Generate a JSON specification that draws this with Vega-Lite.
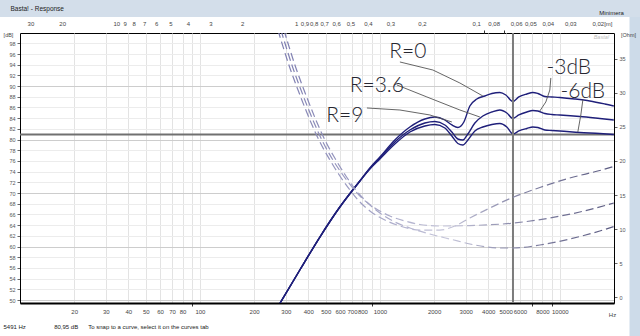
{
 "$schema": "https://vega.github.io/schema/vega-lite/v6.json",
 "width": 594, "height": 270,
 "autosize": "none",
 "padding": {"left": 20, "top": 33, "right": 26, "bottom": 33},
 "background": "#ffffff",
 "config": {"view": {"stroke": "#000000", "strokeWidth": 1}, "font": "Liberation Sans", "axis": {"labelFont": "Liberation Sans", "titleFont": "Liberation Sans", "labelOverlap": false, "labelBound": false}},
 "datasets": {
  "spl": [
   {"curve":"R=0","f":274.8,"db":49.07},{"curve":"R=0","f":359,"db":55.61},{"curve":"R=0","f":464,"db":61.78},{"curve":"R=0","f":599,"db":67.39},{"curve":"R=0","f":774,"db":72.26},{"curve":"R=0","f":880,"db":74.69},{"curve":"R=0","f":1000,"db":76.74},{"curve":"R=0","f":1211,"db":79.92},{"curve":"R=0","f":1468,"db":82.35},{"curve":"R=0","f":1778,"db":83.85},{"curve":"R=0","f":2021,"db":84.22},{"curve":"R=0","f":2297,"db":83.66},{"curve":"R=0","f":2512,"db":82.73},{"curve":"R=0","f":2712,"db":82.26},{"curve":"R=0","f":2929,"db":83.29},{"curve":"R=0","f":3162,"db":86.28},{"curve":"R=0","f":3458,"db":87.59},{"curve":"R=0","f":3831,"db":88.15},{"curve":"R=0","f":4191,"db":88.62},{"curve":"R=0","f":4642,"db":88.81},{"curve":"R=0","f":5012,"db":88.34},{"curve":"R=0","f":5483,"db":87.12},{"curve":"R=0","f":5918,"db":87.97},{"curve":"R=0","f":6556,"db":88.53},{"curve":"R=0","f":7079,"db":88.81},{"curve":"R=0","f":7550,"db":88.62},{"curve":"R=0","f":8254,"db":88.06},{"curve":"R=0","f":9029,"db":87.97},{"curve":"R=0","f":10000,"db":87.87},{"curve":"R=0","f":12115,"db":87.59},{"curve":"R=0","f":14678,"db":87.22},{"curve":"R=0","f":17783,"db":86.66},{"curve":"R=0","f":19953,"db":86.28},
   {"curve":"R=3.6","f":274.8,"db":49.07},{"curve":"R=3.6","f":359,"db":55.61},{"curve":"R=3.6","f":464,"db":61.78},{"curve":"R=3.6","f":599,"db":67.39},{"curve":"R=3.6","f":774,"db":72.26},{"curve":"R=3.6","f":880,"db":74.6},{"curve":"R=3.6","f":1000,"db":76.56},{"curve":"R=3.6","f":1211,"db":79.55},{"curve":"R=3.6","f":1468,"db":81.79},{"curve":"R=3.6","f":1778,"db":83.1},{"curve":"R=3.6","f":2021,"db":83.38},{"curve":"R=3.6","f":2297,"db":82.73},{"curve":"R=3.6","f":2512,"db":81.42},{"curve":"R=3.6","f":2712,"db":80.11},{"curve":"R=3.6","f":2891,"db":79.92},{"curve":"R=3.6","f":3083,"db":81.05},{"curve":"R=3.6","f":3372,"db":83.1},{"curve":"R=3.6","f":3734,"db":84.41},{"curve":"R=3.6","f":4191,"db":85.16},{"curve":"R=3.6","f":4642,"db":85.53},{"curve":"R=3.6","f":5076,"db":84.97},{"curve":"R=3.6","f":5483,"db":83.94},{"curve":"R=3.6","f":5918,"db":84.6},{"curve":"R=3.6","f":6556,"db":85.16},{"curve":"R=3.6","f":7079,"db":85.44},{"curve":"R=3.6","f":7550,"db":85.35},{"curve":"R=3.6","f":8254,"db":84.88},{"curve":"R=3.6","f":9029,"db":84.69},{"curve":"R=3.6","f":10000,"db":84.6},{"curve":"R=3.6","f":12915,"db":84.32},{"curve":"R=3.6","f":16681,"db":83.94},{"curve":"R=3.6","f":19953,"db":83.66},
   {"curve":"R=9","f":274.8,"db":49.07},{"curve":"R=9","f":359,"db":55.61},{"curve":"R=9","f":464,"db":61.78},{"curve":"R=9","f":599,"db":67.39},{"curve":"R=9","f":774,"db":72.26},{"curve":"R=9","f":880,"db":74.5},{"curve":"R=9","f":1000,"db":76.37},{"curve":"R=9","f":1211,"db":79.18},{"curve":"R=9","f":1468,"db":81.42},{"curve":"R=9","f":1778,"db":82.54},{"curve":"R=9","f":2021,"db":82.82},{"curve":"R=9","f":2297,"db":82.17},{"curve":"R=9","f":2512,"db":80.67},{"curve":"R=9","f":2712,"db":79.27},{"curve":"R=9","f":2891,"db":78.99},{"curve":"R=9","f":3083,"db":79.92},{"curve":"R=9","f":3372,"db":81.61},{"curve":"R=9","f":3734,"db":82.35},{"curve":"R=9","f":4191,"db":82.82},{"curve":"R=9","f":4642,"db":83.01},{"curve":"R=9","f":5076,"db":82.35},{"curve":"R=9","f":5483,"db":81.05},{"curve":"R=9","f":5918,"db":81.61},{"curve":"R=9","f":6556,"db":82.07},{"curve":"R=9","f":7079,"db":82.35},{"curve":"R=9","f":7550,"db":82.26},{"curve":"R=9","f":8254,"db":81.79},{"curve":"R=9","f":9029,"db":81.7},{"curve":"R=9","f":10000,"db":81.61},{"curve":"R=9","f":12915,"db":81.33},{"curve":"R=9","f":16681,"db":81.14},{"curve":"R=9","f":19953,"db":80.95}
  ],
  "imp": [
   {"curve":"A","f":271.3,"ohm":39.26},{"curve":"A","f":316.2,"ohm":33.68},{"curve":"A","f":359.4,"ohm":29.71},{"curve":"A","f":408.4,"ohm":26.03},{"curve":"A","f":464.2,"ohm":22.79},{"curve":"A","f":527.6,"ohm":20.15},{"curve":"A","f":599.5,"ohm":17.79},{"curve":"A","f":681.3,"ohm":15.74},{"curve":"A","f":774.3,"ohm":13.97},{"curve":"A","f":880,"ohm":12.65},{"curve":"A","f":1066,"ohm":11.32},{"curve":"A","f":1292,"ohm":10.44},{"curve":"A","f":1668,"ohm":9.85},{"curve":"A","f":2154,"ohm":9.85},{"curve":"A","f":2610,"ohm":10.44},{"curve":"A","f":3162,"ohm":11.62},{"curve":"A","f":4084,"ohm":13.09},{"curve":"A","f":5551,"ohm":14.71},{"curve":"A","f":7743,"ohm":16.1},{"curve":"A","f":11365,"ohm":17.5},{"curve":"A","f":16681,"ohm":18.6},{"curve":"A","f":19953,"ohm":19.19},
   {"curve":"B","f":281.8,"ohm":39.26},{"curve":"B","f":328.6,"ohm":33.68},{"curve":"B","f":373.4,"ohm":29.71},{"curve":"B","f":424.4,"ohm":26.03},{"curve":"B","f":482.4,"ohm":22.79},{"curve":"B","f":548.3,"ohm":20.15},{"curve":"B","f":623,"ohm":17.94},{"curve":"B","f":707.9,"ohm":16.03},{"curve":"B","f":804.6,"ohm":14.41},{"curve":"B","f":937.9,"ohm":13.09},{"curve":"B","f":1136,"ohm":11.91},{"curve":"B","f":1377,"ohm":11.18},{"curve":"B","f":1668,"ohm":10.66},{"curve":"B","f":2154,"ohm":10.44},{"curve":"B","f":3162,"ohm":10.51},{"curve":"B","f":5551,"ohm":10.88},{"curve":"B","f":8799,"ohm":11.62},{"curve":"B","f":12915,"ohm":12.5},{"curve":"B","f":19953,"ohm":13.82},
   {"curve":"C","f":292.9,"ohm":39.26},{"curve":"C","f":341.5,"ohm":33.68},{"curve":"C","f":388,"ohm":29.71},{"curve":"C","f":441,"ohm":26.03},{"curve":"C","f":501.2,"ohm":22.79},{"curve":"C","f":569.8,"ohm":20.15},{"curve":"C","f":647.4,"ohm":17.79},{"curve":"C","f":735.6,"ohm":15.74},{"curve":"C","f":857.7,"ohm":13.82},{"curve":"C","f":1000,"ohm":12.35},{"curve":"C","f":1211,"ohm":11.03},{"curve":"C","f":1468,"ohm":10.15},{"curve":"C","f":1896,"ohm":9.26},{"curve":"C","f":2448,"ohm":8.53},{"curve":"C","f":3372,"ohm":7.65},{"curve":"C","f":4642,"ohm":7.21},{"curve":"C","f":5551,"ohm":7.21},{"curve":"C","f":7743,"ohm":7.65},{"curve":"C","f":11365,"ohm":8.53},{"curve":"C","f":16681,"ohm":9.71},{"curve":"C","f":19953,"ohm":10.37}
  ],
  "notes": [
   {"label":"R=0","f":1431,"db":96.38},{"label":"R=3.6","f":962,"db":90.02},{"label":"R=9","f":639,"db":84.41},{"label":"-3dB","f":11220,"db":93.39},{"label":"-6dB","f":13422,"db":88.9}
  ],
  "leaders": [
   {"id":"R=0","i":0,"f":1292,"db":94.51},{"id":"R=0","i":1,"f":1970,"db":93.01},{"id":"R=0","i":2,"f":2783,"db":90.58},{"id":"R=0","i":3,"f":3734,"db":88.15},
   {"id":"R=3.6","i":0,"f":1243,"db":90.21},{"id":"R=3.6","i":1,"f":1825,"db":87.97},{"id":"R=3.6","i":2,"f":2783,"db":85.53},{"id":"R=3.6","i":3,"f":3594,"db":84.22},
   {"id":"R=9","i":0,"f":847,"db":85.91},{"id":"R=9","i":1,"f":1292,"db":85.53},{"id":"R=9","i":2,"f":1896,"db":84.6},{"id":"R=9","i":3,"f":2512,"db":83.29},
   {"id":"-3dB","i":0,"f":8913,"db":91.52},{"id":"-3dB","i":1,"f":8799,"db":89.27},{"id":"-3dB","i":2,"f":8359,"db":87.03},{"id":"-3dB","i":3,"f":7743,"db":85.35},
   {"id":"-6dB","i":0,"f":13422,"db":87.4},{"id":"-6dB","i":1,"f":13082,"db":84.6},{"id":"-6dB","i":2,"f":12589,"db":81.42}
  ],
  "cursorH": [{"db": 80.95}],
  "cursorV": [{"f": 5491}],
  "dummy": [{"wl": 1, "s": 0.5}]
 },
 "layer": [
  {
   "data": {"name": "dummy"},
   "mark": {"type": "point", "opacity": 0},
   "encoding": {
    "x": {"field": "s", "type": "quantitative", "scale": {"domain": [0, 1], "range": [615, 620]},
     "axis": {"orient": "bottom", "offset": -300, "values": [0], "labels": false, "ticks": true, "tickSize": 340, "tickWidth": 12, "tickColor": "#cddbe9", "domain": false, "grid": false,
      "title": "5491 Hz\u00a0\u00a0\u00a0\u00a0\u00a0\u00a0\u00a0\u00a0\u00a0\u00a0\u00a0\u00a0\u00a0\u00a0\u00a0\u00a0\u00a080,95 dB\u00a0\u00a0\u00a0\u00a0\u00a0\u00a0To snap to a curve, select it on the curves tab",
      "titleX": -17, "titleY": 323, "titleAlign": "left", "titleBaseline": "middle", "titleFontSize": 6, "titleFontWeight": "normal", "titleColor": "#222222"}},
    "y": {"field": "s", "type": "quantitative", "scale": {"domain": [0, 1], "range": [-25, -20]},
     "axis": {"orient": "left", "offset": -620, "values": [0], "labels": false, "ticks": true, "tickSize": 645, "tickWidth": 17, "tickColor": "#d3deea", "domain": false, "grid": false,
      "title": "Basta! - Response", "titleAngle": 0, "titleX": -630, "titleY": -25, "titleAlign": "left", "titleBaseline": "middle", "titleFontSize": 6.5, "titleFontWeight": "normal", "titleColor": "#222222"}}
   }
  },
  {
   "data": {"name": "cursorH"},
   "mark": {"type": "rule", "stroke": "#707070", "strokeWidth": 2},
   "encoding": {
    "y": {"field": "db", "type": "quantitative", "scale": {"domain": [49.44, 99.93], "nice": false, "zero": false},
     "axis": {"orient": "left", "values": [50,52,54,56,58,60,62,64,66,68,70,72,74,76,78,80,82,84,86,88,90,92,94,96,98],
      "labelFontSize": 5.5, "labelColor": "#555555", "labelPadding": 2, "labelOverlap": false, "labelFlush": false, "tickSize": 3, "tickColor": "#666666", "domainColor": "#000000",
      "grid": true, "gridColor": {"condition": {"test": "datum.value % 10 === 0", "value": "#cdcdcd"}, "value": "#ececec"},
      "title": "[dB]", "titleAngle": 0, "titleX": -12, "titleY": 1, "titleFontSize": 5.5, "titleFontWeight": "normal", "titleColor": "#444444", "titleAlign": "center", "titleBaseline": "middle"}}
   }
  },
  {
   "layer": [
    {
     "data": {"name": "spl"},
     "mark": {"type": "line", "stroke": "#1f1f7a", "strokeWidth": 1.4, "clip": true, "interpolate": "monotone"},
     "encoding": {
      "x": {"field": "f", "type": "quantitative", "scale": {"type": "log", "domain": [10, 20000], "nice": false},
       "axis": {"orient": "bottom", "values": [10,20,30,40,50,60,70,80,90,100,200,300,400,500,600,700,800,900,1000,2000,3000,4000,5000,6000,7000,8000,9000,10000,20000],
        "format": "d", "labelExpr": "indexof([10,90,900,7000,9000,20000], datum.value) >= 0 ? '' : datum.label",
        "labelFontSize": 6, "labelColor": "#444444", "labelPadding": 2, "labelOverlap": false, "labelFlush": false,
        "tickSize": 3, "tickColor": {"condition": {"test": "indexof([90,900,7000,9000], datum.value) >= 0", "value": "#333333"}, "value": "transparent"},
        "domainColor": "#000000", "domainWidth": 2, "grid": true, "gridColor": "#e3e3e3",
        "title": "Hz", "titleFontSize": 6, "titleFontWeight": "normal", "titleColor": "#444444", "titleX": 592, "titleY": 11, "titleAlign": "center", "titleBaseline": "middle"}},
      "y": {"field": "db", "type": "quantitative", "scale": {"domain": [49.44, 99.93], "nice": false, "zero": false}, "axis": null},
      "detail": {"field": "curve"}
     }
    },
    {
     "data": {"name": "cursorV"},
     "mark": {"type": "rule", "stroke": "#7c7c7c", "strokeWidth": 2},
     "encoding": {"x": {"field": "f", "type": "quantitative", "scale": {"type": "log", "domain": [10, 20000], "nice": false}}}
    },
    {
     "data": {"name": "leaders"},
     "mark": {"type": "line", "stroke": "#555555", "strokeWidth": 0.9, "interpolate": "linear"},
     "encoding": {
      "x": {"field": "f", "type": "quantitative", "scale": {"type": "log", "domain": [10, 20000], "nice": false}},
      "y": {"field": "db", "type": "quantitative", "scale": {"domain": [49.44, 99.93], "nice": false, "zero": false}, "axis": null},
      "detail": {"field": "id"},
      "order": {"field": "i"}
     }
    },
    {
     "data": {"name": "notes"},
     "mark": {"type": "text", "font": "Lato", "fontWeight": 300, "fontSize": 21, "fill": "#262630", "baseline": "middle", "align": "center"},
     "encoding": {
      "x": {"field": "f", "type": "quantitative", "scale": {"type": "log", "domain": [10, 20000], "nice": false}},
      "y": {"field": "db", "type": "quantitative", "scale": {"domain": [49.44, 99.93], "nice": false, "zero": false}, "axis": null},
      "text": {"field": "label"}
     }
    }
   ]
  },
  {
   "data": {"name": "imp"},
   "mark": {"type": "line", "strokeWidth": 1.2, "strokeDash": [8, 4], "clip": true, "interpolate": "monotone",
    "stroke": {"gradient": "linear", "x1": 0, "y1": 0, "x2": 1, "y2": 0, "stops": [{"offset": 0, "color": "#7d7db0"}, {"offset": 0.3, "color": "#a8a8c8"}, {"offset": 0.5, "color": "#c6c6da"}, {"offset": 0.72, "color": "#8585a6"}, {"offset": 1, "color": "#5a5a80"}]}},
   "encoding": {
    "x": {"field": "f", "type": "quantitative", "scale": {"type": "log", "domain": [10, 20000], "nice": false}, "axis": null},
    "y": {"field": "ohm", "type": "quantitative", "scale": {"domain": [-0.88, 38.82], "nice": false, "zero": false},
     "axis": {"orient": "right", "values": [0,5,10,15,20,25,30,35], "labelFontSize": 5.5, "labelColor": "#555555", "labelPadding": 2, "labelOverlap": false, "tickSize": 3, "tickColor": "#666666", "domainColor": "#000000", "grid": false,
      "title": "[Ohm]", "titleAngle": 0, "titleX": 14, "titleY": 1, "titleFontSize": 5.5, "titleFontWeight": "normal", "titleColor": "#444444", "titleAlign": "center", "titleBaseline": "middle"}},
    "detail": {"field": "curve"}
   }
  },
  {
   "data": {"name": "dummy"},
   "mark": {"type": "point", "opacity": 0},
   "encoding": {
    "x": {"field": "wl", "type": "quantitative", "scale": {"type": "log", "domain": [0.01715, 34.3], "reverse": true, "nice": false},
     "axis": {"orient": "top", "values": [30,20,10,9,8,7,6,5,4,3,2,1,0.9,0.8,0.7,0.6,0.5,0.4,0.3,0.2,0.1,0.09,0.08,0.07,0.06,0.05,0.04,0.03,0.02],
      "format": "~g", "labelExpr": "(datum.value == 0.09 || datum.value == 0.07) ? '' : (datum.value == 0.02 ? '0,02[m]' : replace(datum.label, '.', ','))",
      "labelFontSize": 6, "labelColor": "#444444", "labelPadding": 4, "labelOverlap": false, "labelFlush": false,
      "tickSize": 3, "tickColor": {"condition": {"test": "datum.value == 0.09 || datum.value == 0.07", "value": "#333333"}, "value": "transparent"},
      "domain": false, "grid": false,
      "title": "Basta!", "titleX": 581, "titleY": 3, "titleFontSize": 5.5, "titleFontWeight": "normal", "titleFontStyle": "italic", "titleColor": "#bdbdbd", "titleAlign": "center", "titleBaseline": "middle"}},
    "y": {"field": "wl", "type": "quantitative", "scale": {"domain": [0, 2]},
     "axis": {"orient": "right", "labels": false, "ticks": false, "domain": false, "grid": false,
      "title": "Minimera", "titleAngle": 0, "titleX": -3, "titleY": -21, "titleAlign": "center", "titleBaseline": "middle", "titleFontSize": 6, "titleFontWeight": "normal", "titleColor": "#222222"}}
   }
  }
 ],
 "resolve": {"scale": {"x": "independent", "y": "independent"}, "axis": {"x": "independent", "y": "independent"}}
}
